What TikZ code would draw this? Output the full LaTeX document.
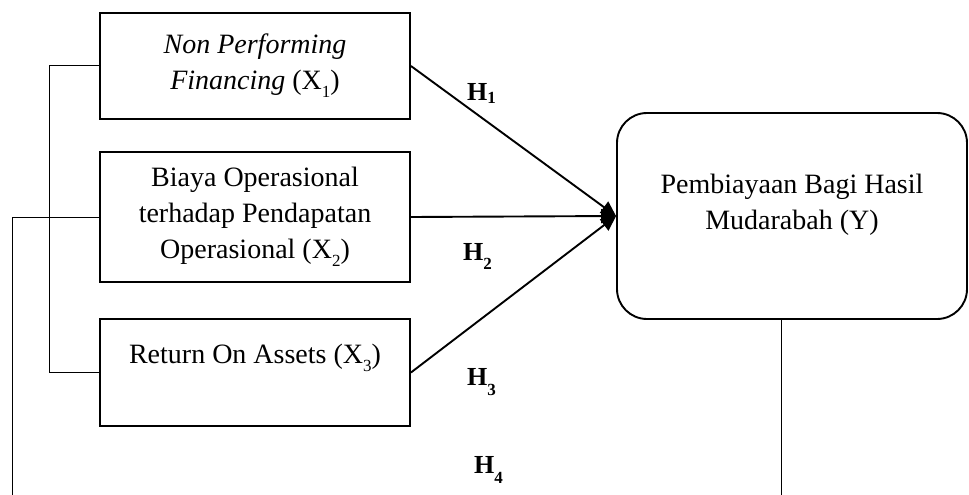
\documentclass[tikz,border=0pt]{standalone}
\usepackage{fontspec}
\setmainfont{Liberation Serif}
\usetikzlibrary{arrows.meta}
\newcommand{\lowsub}[2]{\raisebox{#1}{\fontsize{17}{17}\selectfont #2}}
\begin{document}
\begin{tikzpicture}[x=1pt,y=-1pt,
  box/.style={draw,line width=1.9pt,minimum width=310pt,align=center,inner sep=0pt,
    font=\fontsize{28}{36}\selectfont},
  txt/.style={align=center,inner sep=0pt,font=\fontsize{28}{36}\selectfont},
  hyp/.style={inner sep=0pt,anchor=base west,font=\fontsize{26}{30}\selectfont\bfseries},
  arr/.style={line width=1.9pt,-{Triangle[length=15pt,width=14pt]}},
  thin/.style={line width=1pt}]
\useasboundingbox (0,0) rectangle (969,495);
\node[box,minimum height=106pt] (b1) at (255,66)
  {\textit{Non Performing}\\\textit{Financing} (X\lowsub{-8pt}{1})};
\node[box,minimum height=130pt] (b2) at (255,217)
  {Biaya Operasional\\terhadap Pendapatan\\Operasional (X\lowsub{-8pt}{2})};
\node[box,minimum height=107pt] (b3) at (255,372.5) {};
\node[txt] (b3t) at (255,358) {Return On Assets (X\lowsub{-8pt}{3})};
\node[draw,line width=1.9pt,rounded corners=30pt,minimum width=350pt,minimum height=206pt] (Y) at (792,216) {};
\node[txt] (Yt) at (792,205) {Pembiayaan Bagi Hasil\\Mudarabah (Y)};
\draw[arr] (b1.east) -- (Y.west);
\draw[arr] (b2.east) -- (Y.west);
\draw[arr] (b3.east) -- (Y.west);
\node[hyp] (h1) at (467,100) {H\lowsub{-3pt}{\bfseries 1}};
\node[hyp] (h2) at (463,260) {H\lowsub{-9pt}{\bfseries 2}};
\node[hyp] (h3) at (467,385) {H\lowsub{-10pt}{\bfseries 3}};
\node[hyp] (h4) at (474,473) {H\lowsub{-10pt}{\bfseries 4}};
\coordinate (c1) at (12,497);
\coordinate (c2) at (781,497);
\draw[thin] (b1.west) -- ++(-50,0) |- (b3.west);
\draw[thin] (b2.west) -| (c1);
\draw[thin] (Y.south -| c2) -- (c2);
\end{tikzpicture}
\end{document}
